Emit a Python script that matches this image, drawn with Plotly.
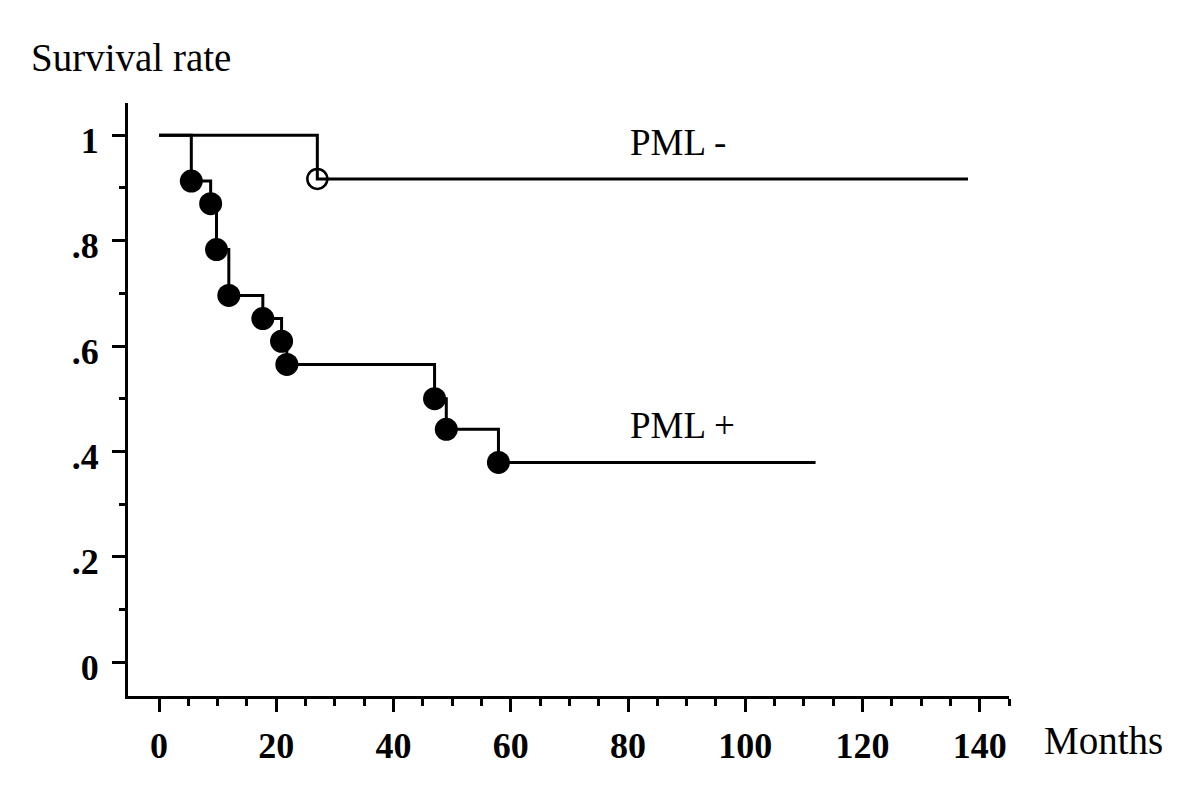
import plotly.graph_objects as go

# PML- group (open circle)
neg_times = [0, 27, 138]
neg_surv = [1.0, 0.917, 0.917]
neg_event_t = [27]
neg_event_s = [0.917]

# PML+ group (filled circles)
pos_times = [0, 5.5, 8.8, 9.8, 11.9, 17.7, 20.9, 21.8, 47.0, 49.0, 57.9, 112]
pos_surv = [1.0, 0.913, 0.870, 0.783, 0.696, 0.652, 0.609, 0.565, 0.500, 0.442, 0.379, 0.379]
pos_event_t = pos_times[1:-1]
pos_event_s = pos_surv[1:-1]

x_tickvals = [0, 20, 40, 60, 80, 100, 120, 140]
x_minorvals = [5, 10, 15, 25, 30, 35, 45, 50, 55, 65, 70, 75, 85, 90, 95, 105, 110, 115, 125, 130, 135, 145]
y_tickvals = [0, 0.2, 0.4, 0.6, 0.8, 1.0]
y_ticktext = ["0", ".2", ".4", ".6", ".8", "1"]
y_minorvals = [0.1, 0.3, 0.5, 0.7, 0.9]

FONT = "Liberation Serif, Times New Roman, serif"

fig = go.Figure()
fig.add_trace(go.Scatter(x=neg_times, y=neg_surv, mode="lines", line=dict(shape="hv", color="black", width=3),
                         showlegend=False, hoverinfo="skip"))
fig.add_trace(go.Scatter(x=pos_times, y=pos_surv, mode="lines", line=dict(shape="hv", color="black", width=3),
                         showlegend=False, hoverinfo="skip"))
fig.add_trace(go.Scatter(x=pos_event_t, y=pos_event_s, mode="markers",
                         marker=dict(symbol="circle", size=23, color="black", line=dict(width=0)),
                         showlegend=False))
fig.add_trace(go.Scatter(x=neg_event_t, y=neg_event_s, mode="markers",
                         marker=dict(symbol="circle-open", size=20, color="black", line=dict(width=2.5, color="black")),
                         showlegend=False))

fig.update_layout(
    width=1192, height=795,
    margin=dict(l=120, r=190.5, t=95, b=107),
    paper_bgcolor="white", plot_bgcolor="white",
    font=dict(family=FONT, color="black"),
    showlegend=False,
)
fig.update_xaxes(
    range=[-5.3, 145], showgrid=False, zeroline=False,
    showline=True, linecolor="black", linewidth=3,
    tickmode="array", tickvals=x_tickvals,
    ticks="outside", ticklen=13, tickwidth=3, tickcolor="black",
    minor=dict(tickmode="array", tickvals=x_minorvals, ticks="outside", ticklen=7, tickwidth=2.5, tickcolor="black"),
    tickfont=dict(family=FONT, size=36, color="black", weight="bold"),
    ticklabelstandoff=3,
)
fig.update_yaxes(
    range=[-0.064, 1.061], showgrid=False, zeroline=False,
    showline=True, linecolor="black", linewidth=3,
    tickmode="array", tickvals=y_tickvals, ticktext=y_ticktext,
    ticks="outside", ticklen=13, tickwidth=3, tickcolor="black",
    minor=dict(tickmode="array", tickvals=y_minorvals, ticks="outside", ticklen=6, tickwidth=2.5, tickcolor="black"),
    tickfont=dict(family=FONT, size=36, color="black", weight="bold"),
    ticklabelstandoff=6,
    ticklabelshift=5,
)

fig.add_annotation(text="Survival rate", xref="paper", yref="paper", x=-0.1123, y=1.0775,
                   xanchor="left", yanchor="middle", showarrow=False, font=dict(family=FONT, size=39, color="black"))
fig.add_annotation(text="Months", xref="paper", yref="paper", x=1.0369, y=-0.0742,
                   xanchor="left", yanchor="middle", showarrow=False, font=dict(family=FONT, size=39, color="black"))
fig.add_annotation(text="PML -", xref="x", yref="y", x=80.0, y=0.9858,
                   xanchor="left", yanchor="middle", showarrow=False, font=dict(family=FONT, size=37, color="black"))
fig.add_annotation(text="PML +", xref="x", yref="y", x=80.0, y=0.4497,
                   xanchor="left", yanchor="middle", showarrow=False, font=dict(family=FONT, size=37, color="black"))

fig.write_html("out.html")
